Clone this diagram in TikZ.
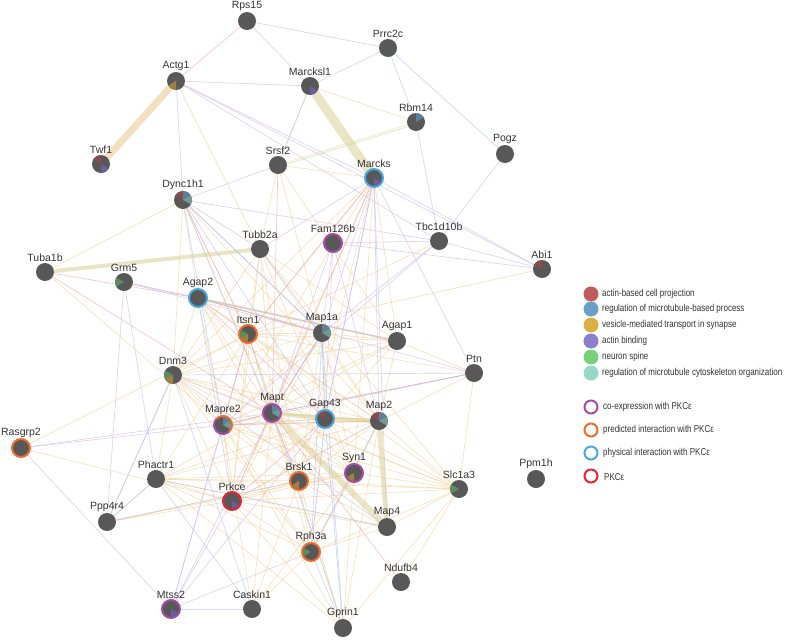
\documentclass[tikz,border=0pt]{standalone}
\usepackage{fontspec}
\usepackage{graphicx}
\setmainfont{Liberation Sans}
\usetikzlibrary{backgrounds}
\definecolor{ng}{HTML}{585858}
\definecolor{txt}{HTML}{333333}
\definecolor{cco}{HTML}{CDB8E0}
\definecolor{cpr}{HTML}{F2CF96}
\definecolor{ccl}{HTML}{B1BFE8}
\definecolor{cph}{HTML}{E8A8A8}
\definecolor{cge}{HTML}{B5DB95}
\definecolor{csd}{HTML}{DCD49E}
\definecolor{cband}{HTML}{EBCB94}
\definecolor{rco}{HTML}{A64CA8}
\definecolor{rpr}{HTML}{F26B2A}
\definecolor{rph}{HTML}{4AA8E0}
\definecolor{rpk}{HTML}{EE2233}
\definecolor{lred}{HTML}{C05A5C}
\definecolor{lblue}{HTML}{6AA0C8}
\definecolor{lyel}{HTML}{DCB040}
\definecolor{lpur}{HTML}{8E7CCC}
\definecolor{lgrn}{HTML}{78D07A}
\definecolor{ltea}{HTML}{96D8C8}
\definecolor{sred}{HTML}{8C4B4B}
\definecolor{sblue}{HTML}{5E7F99}
\definecolor{stea}{HTML}{6F9C92}
\definecolor{spur}{HTML}{6B5D9E}
\definecolor{syel}{HTML}{A08040}
\definecolor{sgrn}{HTML}{5B8E5C}
\newcommand\psl[4]{\fill[#4] (#1.center) -- ++(#2:#3) arc[start angle=#2,delta angle=-60,radius=#3] -- cycle;}
\newcommand\lgt[1]{\scalebox{0.8}[1]{#1}}
\tikzset{
  gn/.style={circle,fill=ng,minimum size=18pt,inner sep=0pt,outer sep=0pt},
  lab/.style={font=\fontsize{10.5}{12}\selectfont,text=txt,inner sep=1.3pt},
  ringco/.style={draw=rco,line width=2pt},
  ringpr/.style={draw=rpr,line width=2pt},
  ringph/.style={draw=rph,line width=2pt},
  ringpk/.style={draw=rpk,line width=2pt},
  edg/.style={line width=0.7pt,draw opacity=0.6},
  eco/.style={edg,draw=cco},
  epr/.style={edg,draw=cpr},
  ecl/.style={edg,draw=ccl},
  eph/.style={edg,draw=cph},
  ege/.style={edg,draw=cge},
  band/.style={draw opacity=0.6},
  legc/.style={circle,minimum size=15pt,inner sep=0pt},
  legr/.style={circle,minimum size=13pt,inner sep=0pt,line width=2pt},
  legt/.style={anchor=west,font=\fontsize{10}{11}\selectfont,text=txt,inner sep=0pt}
}
\newcommand\gnode[4][]{\node[gn,#1,label={[lab]90:#4}] (#2) at (#3) {};}
\begin{document}
\begin{tikzpicture}[x=1pt,y=-1pt]
\useasboundingbox (0,0) rectangle (788,643);
% nodes
\gnode{rps15}{247,21}{Rps15}
\gnode{prrc2c}{388,48}{Prrc2c}
\gnode{actg1}{176,81}{Actg1}
\gnode{marcksl1}{310,86}{Marcksl1}
\gnode{rbm14}{416,122}{Rbm14}
\gnode{pogz}{505,154}{Pogz}
\gnode{twf1}{101,164}{Twf1}
\gnode{srsf2}{278,165}{Srsf2}
\gnode[ringph]{marcks}{374,178}{Marcks}
\gnode{dync1h1}{183,200}{Dync1h1}
\gnode{tubb2a}{260,249}{Tubb2a}
\gnode[ringco]{fam126b}{333,243}{Fam126b}
\gnode{tbc1d10b}{439,241}{Tbc1d10b}
\gnode{abi1}{542,269}{Abi1}
\gnode{tuba1b}{45,272}{Tuba1b}
\gnode{grm5}{124,282}{Grm5}
\gnode[ringph]{agap2}{198,298}{Agap2}
\gnode[ringpr]{itsn1}{248,334}{Itsn1}
\gnode{map1a}{322,333}{Map1a}
\gnode{agap1}{397,341}{Agap1}
\gnode{ptn}{474,373}{Ptn}
\gnode{dnm3}{173,375}{Dnm3}
\gnode{mapre2}{223,425}{Mapre2}
\gnode[ringco]{mapt}{272,413}{Mapt}
\gnode[ringph]{gap43}{325,419}{Gap43}
\gnode{map2}{379,421}{Map2}
\gnode[ringpr]{rasgrp2}{21,448}{Rasgrp2}
\gnode{phactr1}{156,479}{Phactr1}
\gnode[ringco]{syn1}{354,473}{Syn1}
\gnode[ringpr]{brsk1}{299,481}{Brsk1}
\gnode[ringpk]{prkce}{232,501}{Prkce}
\gnode{ppp4r4}{107,522}{Ppp4r4}
\gnode{slc1a3}{459,489}{Slc1a3}
\gnode{map4}{387,527}{Map4}
\gnode[ringpr]{rph3a}{311,552}{Rph3a}
\gnode{ndufb4}{401,582}{Ndufb4}
\gnode[ringco]{mtss2}{171,609}{Mtss2}
\gnode{caskin1}{252,609}{Caskin1}
\gnode{gprin1}{343,628}{Gprin1}
\gnode{ppm1h}{536,479}{Ppm1h}
% Mapre2 split ring
\draw[rpr,line width=2pt] (mapre2.center) ++(135:9pt) arc[start angle=135,delta angle=-180,radius=9pt];
\draw[rco,line width=2pt] (mapre2.center) ++(-45:9pt) arc[start angle=-45,delta angle=-180,radius=9pt];
% pies
\psl{actg1}{-90}{9pt}{syel}
\psl{marcksl1}{-30}{9pt}{spur}
\psl{rbm14}{90}{9pt}{sblue}
\psl{twf1}{150}{9pt}{sred}
\psl{twf1}{-30}{9pt}{spur}
\psl{marcks}{-30}{8pt}{spur}
\psl{dync1h1}{150}{9pt}{sred}
\psl{dync1h1}{90}{9pt}{sblue}
\psl{dync1h1}{30}{9pt}{stea}
\psl{grm5}{-150}{9pt}{sgrn}
\psl{itsn1}{-150}{8pt}{sgrn}
\psl{itsn1}{-90}{8pt}{syel}
\psl{map1a}{90}{9pt}{sblue}
\psl{map1a}{30}{9pt}{stea}
\psl{dnm3}{-150}{9pt}{sgrn}
\psl{dnm3}{-90}{9pt}{syel}
\psl{mapre2}{90}{8pt}{sblue}
\psl{mapre2}{30}{8pt}{stea}
\psl{mapt}{90}{8pt}{sblue}
\psl{mapt}{30}{8pt}{stea}
\psl{gap43}{150}{8pt}{sred}
\psl{map2}{150}{9pt}{sred}
\psl{map2}{90}{9pt}{sblue}
\psl{map2}{30}{9pt}{stea}
\psl{brsk1}{-90}{8pt}{syel}
\psl{syn1}{-90}{8pt}{syel}
\psl{prkce}{-30}{8pt}{spur}
\psl{slc1a3}{-150}{9pt}{sgrn}
\psl{rph3a}{-150}{8pt}{sgrn}
\psl{mtss2}{-30}{8pt}{spur}
\psl{abi1}{150}{9pt}{sred}
% edges
\begin{scope}[on background layer]
\draw[band,draw=cband,line width=7pt] (actg1) -- (twf1);
\draw[band,draw=csd,line width=9pt] (marcksl1) -- (marcks);
\draw[band,draw=csd,line width=4pt] (tuba1b) -- (tubb2a);
\draw[band,draw=csd,line width=6pt] (mapt) -- (map4);
\draw[band,draw=csd,line width=5pt] (map2) -- (map4);
\draw[band,draw=csd,line width=4pt] (mapt) -- (gap43);
\draw[band,draw=csd,line width=4pt] (gap43) -- (map2);
\draw[band,draw=csd,line width=2.5pt] (mapt) -- (map2);
\draw[band,draw=csd,line width=2pt] (agap2) -- (agap1);
\foreach \a/\b in {rps15/marcksl1,rps15/prrc2c,prrc2c/marcksl1,pogz/tbc1d10b,rbm14/tbc1d10b,actg1/marcksl1,actg1/dync1h1,actg1/marcks,actg1/tbc1d10b,actg1/abi1,srsf2/dync1h1,dync1h1/tbc1d10b,marcks/abi1,marcks/ptn,marcks/map4,marcks/map1a,fam126b/abi1,tubb2a/marcks,grm5/agap2,grm5/map1a,grm5/phactr1,grm5/ppp4r4,grm5/agap1,agap2/map1a,agap2/agap1,fam126b/map1a,fam126b/gap43,fam126b/mapt,fam126b/map2,tbc1d10b/mapre2,rasgrp2/mapre2,rasgrp2/mtss2,rasgrp2/mapt,mtss2/prkce,mtss2/mapt,mtss2/mapre2,mtss2/gap43,mtss2/rph3a,mtss2/itsn1,ppp4r4/dnm3,ptn/mapre2,map1a/gap43,dnm3/mapt,dync1h1/map1a,marcks/gap43,ptn/agap2,dnm3/map4,prkce/map2,tbc1d10b/map1a,tbc1d10b/abi1,fam126b/tbc1d10b}
  \draw[eco] (\a) -- (\b);
\foreach \a/\b in {actg1/tubb2a,marcksl1/rbm14,marcksl1/srsf2,srsf2/rbm14,srsf2/marcks,srsf2/tubb2a,srsf2/map1a,srsf2/agap1,dync1h1/tuba1b,dync1h1/agap2,dync1h1/itsn1,dync1h1/mapt,dync1h1/map2,dync1h1/dnm3,marcks/itsn1,marcks/mapre2,marcks/brsk1,marcks/syn1,marcks/mapt,marcks/agap1,marcks/dnm3,tubb2a/itsn1,tubb2a/mapt,tubb2a/brsk1,tubb2a/map2,tubb2a/agap1,tubb2a/syn1,tubb2a/prkce,tubb2a/slc1a3,tubb2a/dnm3,tuba1b/mapre2,tbc1d10b/itsn1,itsn1/abi1,agap2/map1a,agap2/map2,agap2/mapt,agap2/dnm3,agap2/mapre2,agap2/brsk1,agap2/syn1,itsn1/map1a,itsn1/agap1,itsn1/dnm3,itsn1/mapt,itsn1/prkce,itsn1/brsk1,itsn1/ptn,itsn1/slc1a3,itsn1/phactr1,itsn1/map2,itsn1/gap43,map1a/agap1,map1a/mapt,map1a/map2,map1a/dnm3,map1a/brsk1,map1a/syn1,map1a/mapre2,map1a/prkce,agap1/ptn,agap1/dnm3,agap1/mapre2,agap1/map2,agap1/mapt,agap1/gap43,ptn/slc1a3,ptn/map2,dnm3/phactr1,dnm3/brsk1,dnm3/syn1,dnm3/prkce,dnm3/map2,dnm3/slc1a3,dnm3/gap43,dnm3/mapre2,dnm3/rph3a,rasgrp2/itsn1,rasgrp2/prkce,mapre2/mapt,mapre2/brsk1,mapre2/rph3a,mapre2/syn1,mapre2/slc1a3,mapre2/caskin1,mapre2/gprin1,mapre2/prkce,mapre2/map2,mapt/brsk1,mapt/syn1,mapt/slc1a3,mapt/rph3a,mapt/gprin1,mapt/phactr1,mapt/prkce,gap43/syn1,gap43/brsk1,gap43/rph3a,gap43/slc1a3,gap43/phactr1,map2/syn1,map2/slc1a3,map2/brsk1,map2/rph3a,map2/gprin1,map2/phactr1,map2/prkce,phactr1/brsk1,phactr1/syn1,phactr1/slc1a3,phactr1/ppp4r4,phactr1/rph3a,phactr1/map4,phactr1/gprin1,phactr1/prkce,prkce/brsk1,prkce/syn1,prkce/slc1a3,prkce/rph3a,prkce/map4,prkce/gprin1,ppp4r4/prkce,ppp4r4/syn1,ppp4r4/brsk1,brsk1/syn1,brsk1/rph3a,brsk1/slc1a3,brsk1/map4,brsk1/gprin1,syn1/rph3a,syn1/slc1a3,syn1/gprin1,syn1/caskin1,rph3a/map4,rph3a/caskin1,rph3a/slc1a3,caskin1/brsk1,caskin1/mapt,ndufb4/slc1a3,map4/slc1a3,slc1a3/gprin1}
  \draw[epr] (\a) -- (\b);
\foreach \a/\b in {prrc2c/rbm14,prrc2c/pogz,marcksl1/srsf2,dync1h1/map1a,dync1h1/mapre2,dync1h1/gap43,dync1h1/brsk1,marcks/gap43,marcks/map2,map1a/rph3a,map1a/mapt,map1a/gap43,dnm3/ptn,dnm3/ppp4r4,dnm3/caskin1,phactr1/ppp4r4,phactr1/caskin1,ppp4r4/brsk1,mtss2/caskin1,gap43/gprin1,rph3a/gprin1,map2/rph3a,phactr1/map4,tubb2a/map1a,ptn/mapt,agap2/prkce,itsn1/gprin1,map1a/gprin1,gap43/rph3a}
  \draw[ecl] (\a) -- (\b);
\foreach \a/\b in {rps15/actg1,srsf2/mapt,dync1h1/tubb2a,dync1h1/itsn1,tuba1b/agap2,tuba1b/mapt,agap2/map1a,marcks/prkce,marcks/itsn1,agap2/itsn1,mapt/mapre2,mapt/map1a,ptn/mapt,gap43/prkce,mapt/ndufb4,mapre2/gap43,agap2/gap43,map2/mapre2,itsn1/mapre2}
  \draw[eph] (\a) -- (\b);
\foreach \a/\b in {srsf2/rbm14}
  \draw[ege,transform canvas={shift={(0pt,-2pt)}}] (\a) -- (\b);
\end{scope}
% legend
\node[legc,fill=lred] (l1) at (591,294) {};
\node[legc,fill=lblue] (l2) at (591,309) {};
\node[legc,fill=lyel] (l3) at (591,325) {};
\node[legc,fill=lpur] (l4) at (591,341) {};
\node[legc,fill=lgrn] (l5) at (591,357) {};
\node[legc,fill=ltea] (l6) at (591,373) {};
\node[legt] (t1) at (602,294) {\lgt{actin-based cell projection}};
\node[legt] (t2) at (602,309) {\lgt{regulation of microtubule-based process}};
\node[legt] (t3) at (602,325) {\lgt{vesicle-mediated transport in synapse}};
\node[legt] (t4) at (602,341) {\lgt{actin binding}};
\node[legt] (t5) at (602,357) {\lgt{neuron spine}};
\node[legt] (t6) at (602,373) {\lgt{regulation of microtubule cytoskeleton organization}};
\node[legr,draw=rco] (r1) at (591,407) {};
\node[legr,draw=rpr] (r2) at (591,430) {};
\node[legr,draw=rph] (r3) at (591,453) {};
\node[legr,draw=rpk] (r4) at (591,476) {};
\node[legt] (u1) at (603,407) {\lgt{co-expression with PKCε}};
\node[legt] (u2) at (603,430) {\lgt{predicted interaction with PKCε}};
\node[legt] (u3) at (603,453) {\lgt{physical interaction with PKCε}};
\node[legt] (u4) at (604,477) {\lgt{PKCε}};
\end{tikzpicture}
\end{document}
